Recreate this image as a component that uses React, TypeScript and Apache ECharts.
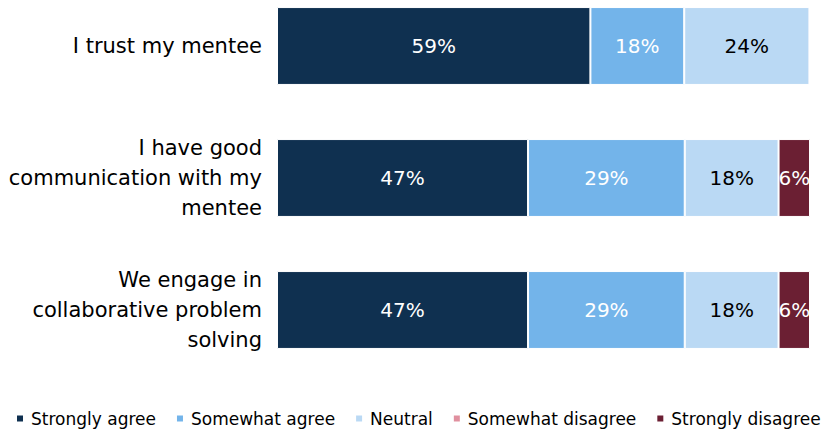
import React, { useEffect, useRef } from "react";
import * as echarts from "echarts";

const categories = [
  "I trust my mentee",
  "I have good\ncommunication with my\nmentee",
  "We engage in\ncollaborative problem\nsolving",
];
const seriesNames = ["Strongly agree", "Somewhat agree", "Neutral", "Somewhat disagree", "Strongly disagree"];
const stronglyAgree = [58.8, 47.1, 47.1];
const somewhatAgree = [17.6, 29.4, 29.4];
const neutral = [23.5, 17.6, 17.6];
const somewhatDisagree = [0, 0, 0];
const stronglyDisagree = [0, 5.9, 5.9];
const colors = ["#0F3050", "#73B4EA", "#BAD9F4", "#E0909F", "#6B1F33"];
const labelColors = ["#ffffff", "#ffffff", "#000000", "#ffffff", "#ffffff"];

const FONT = "DejaVu Sans";

export default function App() {
  const ref = useRef<HTMLDivElement>(null);
  useEffect(() => {
    document.body.style.margin = "0";
    const chart = echarts.init(ref.current!, null, { renderer: "svg" });
    const values = [stronglyAgree, somewhatAgree, neutral, somewhatDisagree, stronglyDisagree];
    chart.setOption({
      animation: false,
      textStyle: { fontFamily: FONT },
      grid: { left: 277, right: 15, top: -20, height: 396, outerBoundsMode: "none" },
      xAxis: {
        type: "value",
        min: 0,
        max: 100,
        show: false,
      },
      yAxis: {
        type: "category",
        inverse: true,
        data: categories,
        axisLine: { show: false },
        axisTick: { show: false },
        axisLabel: {
          fontFamily: FONT,
          fontSize: 21,
          color: "#000",
          margin: 15,
          align: "right",
          lineHeight: 30,
        },
      },
      legend: {
        left: 15,
        top: 410,
        width: 810,
        padding: 0,
        icon: "rect",
        itemWidth: 8,
        itemHeight: 8,
        itemGap: 19,
        textStyle: { fontFamily: FONT, fontSize: 17, color: "#000", padding: [0, 0, 0, 2] },
        data: seriesNames,
      },
      series: seriesNames.map((name, i) => ({
        name,
        type: "bar",
        stack: "total",
        barCategoryGap: "41%",
        data: values[i],
        itemStyle: { color: colors[i], borderColor: "#fff", borderWidth: 1 },
        label: {
          show: true,
          position: "inside",
          fontFamily: FONT,
          fontSize: 20,
          color: labelColors[i],
          formatter: (p: any) => (p.value > 0 ? Math.round(p.value) + "%" : ""),
        },
      })),
    });
    return () => chart.dispose();
  }, []);
  return <div ref={ref} style={{ width: 825, height: 432 }} />;
}
